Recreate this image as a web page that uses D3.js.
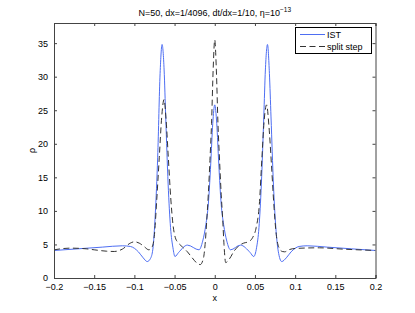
<!DOCTYPE html>
<html lang="en">
<head>
<meta charset="utf-8">
<title>IST vs split step</title>
<script src="https://cdnjs.cloudflare.com/ajax/libs/d3/7.8.5/d3.min.js"></script>
<style>
  body { margin: 0; background: #fff; }
  text { font-family: "Liberation Sans", Arial, sans-serif; fill: #000; }
</style>
</head>
<body>
<script>
var istX = [-0.2, -0.17, -0.14, -0.115, -0.105, -0.095, -0.089, -0.084, -0.08, -0.077,
  -0.074, -0.071, -0.068, -0.0655, -0.063, -0.061, -0.058, -0.055, -0.052, -0.0495,
  -0.045, -0.034, -0.0196, -0.015, -0.011, -0.008, -0.005, -0.0025, 0,
  0.0025, 0.005, 0.008, 0.011, 0.015, 0.0196, 0.032, 0.044, 0.0485,
  0.052, 0.055, 0.058, 0.061, 0.063, 0.0656, 0.068, 0.07, 0.073, 0.076, 0.079,
  0.0833, 0.089, 0.095, 0.105, 0.115, 0.14, 0.17, 0.2];
var istY = [4.1, 4.35, 4.6, 4.8, 4.7, 3.9, 3.0, 2.45, 2.9, 4.3,
  9.5, 18, 30.5, 34.8, 31, 24, 14, 7.5, 4.5, 3.2,
  3.8, 4.9, 4.2, 5.5, 8, 11, 17, 23, 25.8,
  23, 17, 11, 8, 5.5, 4.2, 4.9, 3.8, 3.2,
  4.5, 7.5, 14, 24, 31, 34.8, 30.5, 24, 14, 7.5, 4,
  2.45, 3.0, 3.9, 4.7, 4.8, 4.6, 4.35, 4.1];

var ssX = [-0.2, -0.18, -0.16, -0.15, -0.135, -0.125, -0.115, -0.105, -0.1, -0.094,
  -0.088, -0.082, -0.078, -0.075, -0.0722, -0.069, -0.066, -0.0631, -0.0605, -0.0578,
  -0.0548, -0.052, -0.049, -0.045, -0.04, -0.034, -0.028, -0.022, -0.018, -0.014,
  -0.012, -0.01, -0.008, -0.006, -0.004, -0.002, 0, 0.002, 0.004, 0.006, 0.008, 0.01,
  0.0115, 0.0136, 0.018, 0.024, 0.03, 0.036, 0.042, 0.047, 0.0515, 0.0555, 0.0585,
  0.0615, 0.0645, 0.0675, 0.0705, 0.0735, 0.0765, 0.08, 0.084, 0.087, 0.092, 0.1,
  0.13, 0.16, 0.2];
var ssY = [4.2, 4.45, 4.35, 4.2, 4.0, 3.95, 4.3, 5.2, 5.4, 5.2,
  4.7, 4.2, 4.6, 6.5, 11.6, 18, 24, 26.6, 23.5, 18,
  12, 8, 6, 5.2, 4.6, 3.9, 3.0, 2.2, 2.0, 3.0,
  5, 8.5, 12.5, 17.5, 23, 31, 35.5, 31, 23, 17.5, 12.5, 8.5,
  5, 2.3, 2.8, 4.0, 4.8, 5.2, 5.4, 6, 7.5, 11, 17.5,
  23.5, 25.8, 22.5, 17, 11, 6.5, 4.5, 3.95, 3.9, 4.2, 4.4,
  4.5, 4.3, 4.1];

var xTicks = [-0.2, -0.15, -0.1, -0.05, 0, 0.05, 0.1, 0.15, 0.2];
var yTicks = [0, 5, 10, 15, 20, 25, 30, 35];
var seriesNames = ["IST", "split step"];

var w = 415, h = 313;
var mLeft = 54, mRight = 375.5, mTop = 23, mBottom = 278;

var svg = d3.select("body").append("svg")
  .attr("width", w)
  .attr("height", h);

var x = d3.scaleLinear().domain([-0.2, 0.2]).range([mLeft, mRight]);
var y = d3.scaleLinear().domain([0, 38]).range([mBottom, mTop]);

var fmt = function(d) { return d < 0 ? "\u2212" + Math.abs(d) : String(d); };

var blue = "#4e6ef2", dark = "#333";

// curves, clipped to axes
svg.append("clipPath").attr("id", "clip")
  .append("rect").attr("x", mLeft).attr("y", mTop)
  .attr("width", mRight - mLeft).attr("height", mBottom - mTop);

var line = d3.line()
  .x(function(d) { return x(d[0]); })
  .y(function(d) { return y(d[1]); })
  .curve(d3.curveMonotoneX);

svg.append("path")
  .datum(d3.zip(istX, istY))
  .attr("clip-path", "url(#clip)")
  .attr("d", line)
  .attr("fill", "none")
  .attr("stroke", blue)
  .attr("stroke-width", 1);

svg.append("path")
  .datum(d3.zip(ssX, ssY))
  .attr("clip-path", "url(#clip)")
  .attr("d", line)
  .attr("fill", "none")
  .attr("stroke", dark)
  .attr("stroke-width", 1)
  .attr("stroke-dasharray", "6,3.5");

// axes (MATLAB style: ticks inside, box)
var gx = svg.append("g").attr("transform", "translate(0," + mBottom + ")")
  .call(d3.axisBottom(x).tickValues(xTicks).tickSize(-3).tickPadding(6).tickFormat(fmt));
var gxt = svg.append("g").attr("transform", "translate(0," + mTop + ")")
  .call(d3.axisTop(x).tickValues(xTicks).tickSize(-3).tickFormat(""));
var gy = svg.append("g").attr("transform", "translate(" + mLeft + ",0)")
  .call(d3.axisLeft(y).tickValues(yTicks).tickSize(-3).tickPadding(6));
var gyr = svg.append("g").attr("transform", "translate(" + mRight + ",0)")
  .call(d3.axisRight(y).tickValues(yTicks).tickSize(-3).tickFormat(""));

[gx, gxt, gy, gyr].forEach(function(g) {
  g.selectAll(".domain").attr("stroke", "#444");
  g.selectAll(".tick line").attr("stroke", "#444");
  g.selectAll("text").attr("font-size", 9).attr("font-family", "Liberation Sans, Arial, sans-serif");
});

// labels
svg.append("text")
  .attr("x", (mLeft + mRight) / 2).attr("y", 16)
  .attr("text-anchor", "middle").attr("font-size", 9)
  .html("N=50, dx=1/4096, dt/dx=1/10, \u03b7=10<tspan dy='-4' font-size='6.5'>\u221213</tspan>");

svg.append("text")
  .attr("x", (mLeft + mRight) / 2).attr("y", 301)
  .attr("text-anchor", "middle").attr("font-size", 9)
  .text("x");

svg.append("text")
  .attr("transform", "translate(35," + (mTop + mBottom) / 2 + ") rotate(-90)")
  .attr("text-anchor", "middle").attr("font-size", 9)
  .text("\u03c1");

// legend
var lg = svg.append("g");
lg.append("rect")
  .attr("x", 295.5).attr("y", 27.5).attr("width", 76).attr("height", 26)
  .attr("fill", "#fff").attr("stroke", "#000").attr("stroke-width", 1);
var styles = [{ stroke: blue, dash: null }, { stroke: dark, dash: "6,3.5" }];
seriesNames.forEach(function(name, i) {
  var yy = 34.5 + i * 12;
  lg.append("line")
    .attr("x1", 300).attr("x2", 325).attr("y1", yy).attr("y2", yy)
    .attr("stroke", styles[i].stroke)
    .attr("stroke-dasharray", styles[i].dash);
  lg.append("text")
    .attr("x", 327).attr("y", yy + 3.2)
    .attr("font-size", 9)
    .text(name);
});
</script>
</body>
</html>
